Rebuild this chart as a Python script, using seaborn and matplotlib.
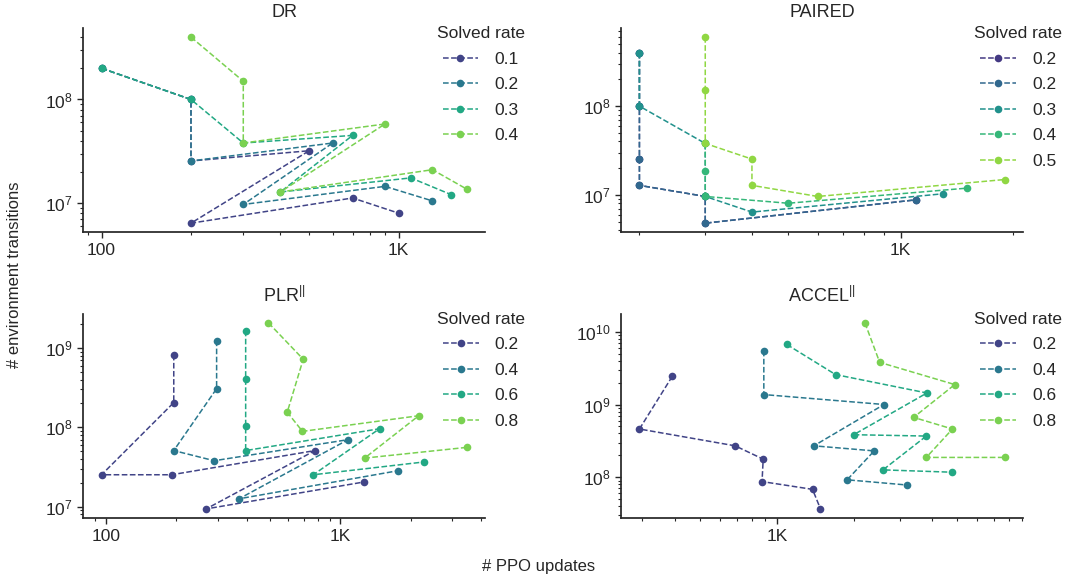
import matplotlib
matplotlib.use("Agg")
import matplotlib.pyplot as plt
from matplotlib.ticker import FuncFormatter
import pandas as pd
import seaborn as sns


# values (x = # PPO updates, y = # env transitions)

DR_RATES = ["0.1", "0.2", "0.3", "0.4"]
DR_UPDATES = [
    [100, 200, 200, 500, 200, 700, 1000],
    [100, 200, 200, 600, 300, 900, 1300],
    [100, 200, 300, 700, 400, 1100, 1500],
    [200, 300, 300, 900, 400, 1300, 1700],
]
DR_TRANSITIONS = [
    [2.0e8, 1.0e8, 2.55e7, 3.2e7, 6.4e6, 1.12e7, 8.0e6],
    [2.0e8, 1.0e8, 2.55e7, 3.8e7, 9.7e6, 1.45e7, 1.05e7],
    [2.0e8, 1.0e8, 3.8e7, 4.5e7, 1.28e7, 1.75e7, 1.21e7],
    [4.0e8, 1.5e8, 3.8e7, 5.8e7, 1.28e7, 2.1e7, 1.36e7],
]

PAIRED_RATES = ["0.2", "0.25", "0.3", "0.4", "0.5"]
PAIRED_UPDATES = [
    [200, 200, 200, 200, 300, 300, 1100],
    [200, 200, 200, 200, 300, 300, 1100],
    [200, 200, 300, 300, 400, 1300],
    [300, 300, 300, 500, 1500],
    [300, 300, 300, 400, 400, 600, 1900],
]
PAIRED_TRANSITIONS = [
    [4.0e8, 1.0e8, 2.55e7, 1.28e7, 9.6e6, 4.8e6, 8.8e6],
    [4.0e8, 1.0e8, 2.55e7, 1.28e7, 9.6e6, 4.8e6, 8.8e6],
    [4.0e8, 1.0e8, 3.8e7, 9.6e6, 6.4e6, 1.03e7],
    [3.8e7, 1.88e7, 9.6e6, 8.05e6, 1.19e7],
    [6.0e8, 1.52e8, 3.8e7, 2.53e7, 1.28e7, 9.6e6, 1.49e7],
]

PLR_RATES = ["0.2", "0.4", "0.6", "0.8"]
PLR_UPDATES = [
    [195, 195, 96, 191, 780, 268, 1260],
    [297, 297, 195, 290, 1080, 370, 1770],
    [395, 395, 395, 395, 1470, 767, 2265],
    [494, 695, 594, 690, 2160, 1270, 3470],
]
PLR_TRANSITIONS = [
    [8.2e8, 2.05e8, 2.53e7, 2.53e7, 5.1e7, 9.4e6, 2.05e7],
    [1.24e9, 3.07e8, 5.1e7, 3.8e7, 7.0e7, 1.26e7, 2.85e7],
    [1.65e9, 4.1e8, 1.03e8, 5.1e7, 9.6e7, 2.53e7, 3.66e7],
    [2.07e9, 7.2e8, 1.55e8, 8.9e7, 1.4e8, 4.1e7, 5.6e7],
]

ACCEL_RATES = ["0.2", "0.4", "0.6", "0.8"]
ACCEL_UPDATES = [
    [392, 292, 688, 884, 875, 1375, 1476],
    [889, 889, 2606, 1391, 2388, 1874, 3206],
    [1092, 1690, 3827, 1987, 3807, 2583, 4810],
    [2197, 2508, 4912, 3397, 4810, 3807, 7690],
]
ACCEL_TRANSITIONS = [
    [2.45e9, 4.6e8, 2.7e8, 1.77e8, 8.7e7, 6.8e7, 3.66e7],
    [5.5e9, 1.37e9, 1.0e9, 2.7e8, 2.3e8, 9.2e7, 7.8e7],
    [6.7e9, 2.58e9, 1.44e9, 3.84e8, 3.68e8, 1.26e8, 1.17e8],
    [1.33e10, 3.8e9, 1.88e9, 6.65e8, 4.6e8, 1.87e8, 1.87e8],
]


def to_frame(rates, updates, transitions):
    rows = []
    for rate, xs, ys in zip(rates, updates, transitions):
        for x, y in zip(xs, ys):
            rows.append({"updates": x, "transitions": y, "rate": rate})
    return pd.DataFrame(rows)


def k_format(v, _pos):
    if v >= 1000:
        return f"{v / 1000:g}K"
    return f"{v:g}"


def draw_panel(ax, title, rates, updates, transitions):
    df = to_frame(rates, updates, transitions)
    sns.lineplot(
        data=df, x="updates", y="transitions", hue="rate",
        hue_order=rates, palette="viridis", ax=ax,
        sort=False, estimator=None,
        marker="o", markersize=5.5, markeredgewidth=0,
        linestyle="--", linewidth=1.1,
    )
    ax.set_xscale("log")
    ax.set_yscale("log")
    ax.xaxis.set_major_formatter(FuncFormatter(k_format))
    ax.xaxis.set_minor_formatter(FuncFormatter(lambda v, p: ""))
    ax.set_xlabel("")
    ax.set_ylabel("")
    ax.set_title(title, fontsize=13, pad=8)
    ax.tick_params(axis="both", which="major", labelsize=12.5, length=4, width=1)
    ax.tick_params(axis="both", which="minor", length=2.5, width=0.8)

    # rebuild the legend: one-decimal labels, placed right of the data
    leg = ax.get_legend()
    handles = leg.legend_handles
    labels = [f"{float(t.get_text()):.1f}" for t in leg.get_texts()]
    ax.legend(
        handles, labels, title="Solved rate",
        loc="upper left", bbox_to_anchor=(0.84, 1.085),
        frameon=False, fontsize=12.5, title_fontsize=12.5,
        handlelength=2.07, handletextpad=0.92, labelspacing=0.6,
    )


sns.set_theme(style="ticks")
plt.rcParams["font.family"] = ["Liberation Sans", "DejaVu Sans"]
plt.rcParams["mathtext.fontset"] = "custom"
plt.rcParams["mathtext.rm"] = "Liberation Sans"
plt.rcParams["mathtext.it"] = "Liberation Sans:italic"
plt.rcParams["mathtext.bf"] = "Liberation Sans:bold"

fig, axes = plt.subplots(2, 2, figsize=(10.68, 5.79), dpi=100)
fig.subplots_adjust(left=0.078, right=0.958, top=0.952, bottom=0.105,
                    wspace=0.338, hspace=0.396)

draw_panel(axes[0, 0], "DR", DR_RATES, DR_UPDATES, DR_TRANSITIONS)
draw_panel(axes[0, 1], "PAIRED", PAIRED_RATES, PAIRED_UPDATES, PAIRED_TRANSITIONS)
draw_panel(axes[1, 0], r"PLR$^{||}$", PLR_RATES, PLR_UPDATES, PLR_TRANSITIONS)
draw_panel(axes[1, 1], r"ACCEL$^{||}$", ACCEL_RATES, ACCEL_UPDATES, ACCEL_TRANSITIONS)

sns.despine(fig)

fig.text(0.014, 0.525, "# environment transitions", rotation=90,
         ha="center", va="center", fontsize=12)
fig.text(0.504, 0.021, "# PPO updates", ha="center", va="center", fontsize=12)

fig.savefig("out.png", dpi=100)
